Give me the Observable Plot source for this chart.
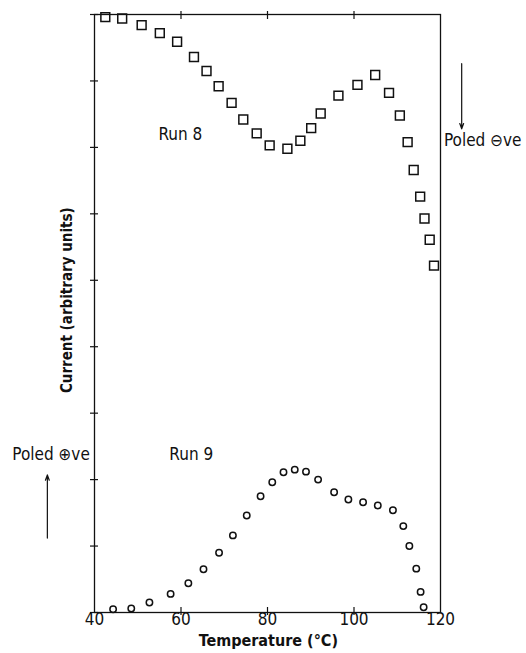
<!DOCTYPE html>
<html>
<head>
<meta charset="utf-8">
<script src="https://cdn.jsdelivr.net/npm/d3@7"></script>
<script src="https://cdn.jsdelivr.net/npm/@observablehq/plot@0.6"></script>
<style>
  html, body { margin: 0; padding: 0; background: #fff; }
  #chart svg { display: block; }
</style>
</head>
<body>
<div id="chart"></div>
<script>
// Run 8 (squares): temperature (°C) and current (arbitrary units)
const run8Temp = [42.5, 46.4, 50.9, 55.1, 59.1, 63.0, 65.9, 68.7, 71.7, 74.4, 77.5, 80.5, 84.6, 87.6, 90.1, 92.3, 96.4, 100.8, 104.9, 108.1, 110.6, 112.4, 113.8, 115.3, 116.3, 117.5, 118.5];
const run8Current = [8.96, 8.94, 8.84, 8.72, 8.59, 8.36, 8.15, 7.92, 7.67, 7.42, 7.21, 7.03, 6.98, 7.10, 7.29, 7.51, 7.78, 7.94, 8.09, 7.82, 7.48, 7.08, 6.66, 6.26, 5.93, 5.61, 5.22];

// Run 9 (circles)
const run9Temp = [44.3, 48.5, 52.7, 57.6, 61.7, 65.2, 68.8, 72.0, 75.2, 78.4, 81.1, 83.7, 86.3, 88.9, 91.7, 95.4, 98.7, 102.1, 105.5, 109.0, 111.4, 112.8, 114.4, 115.4, 116.1];
const run9Current = [0.05, 0.06, 0.15, 0.28, 0.44, 0.65, 0.90, 1.16, 1.46, 1.75, 1.96, 2.11, 2.15, 2.12, 2.00, 1.81, 1.70, 1.66, 1.61, 1.54, 1.30, 1.00, 0.66, 0.31, 0.08];

// Axes
const xTickLabels = [40, 60, 80, 100, 120];
const xTickMarks = [60, 80, 100];
const yTickMarks = [0, 1, 2, 3, 4, 5, 6, 7, 8, 9];

const run8 = run8Temp.map((t, i) => ({t, c: run8Current[i]}));
const run9 = run9Temp.map((t, i) => ({t, c: run9Current[i]}));

const FONT = "'DejaVu Sans Condensed', 'Liberation Sans', sans-serif";

const chart = Plot.plot({
  width: 526,
  height: 653,
  marginLeft: 94,
  marginRight: 86,
  marginTop: 14,
  marginBottom: 41,
  style: {fontFamily: FONT, color: "#111", background: "#fff"},
  x: {domain: [40, 120]},
  y: {domain: [0, 9]},
  marks: [
    Plot.frame({stroke: "#111", strokeWidth: 1.3}),
    // left axis ticks crossing the axis
    Plot.axisY({ticks: yTickMarks, tickSize: 8, dx: 4, tickFormat: () => "", label: null, stroke: "#111", strokeWidth: 1.2}),
    // bottom / top tick marks crossing the frame
    Plot.axisX({anchor: "bottom", ticks: xTickMarks, tickSize: 8, dy: -5, tickFormat: () => "", label: null, stroke: "#111", strokeWidth: 1.2}),
    Plot.axisX({anchor: "top", ticks: xTickMarks, tickSize: 8, dy: 4, tickFormat: () => "", label: null, stroke: "#111", strokeWidth: 1.2}),
    // bottom tick labels
    Plot.axisX({anchor: "bottom", ticks: xTickLabels, tickSize: 0, tickPadding: 0, fontSize: 17, label: null, fill: "#111"}),
    // data
    Plot.dot(run8, {x: "t", y: "c", symbol: "square", r: 5, stroke: "#111", strokeWidth: 1.5, fill: "none"}),
    Plot.dot(run9, {x: "t", y: "c", symbol: "circle", r: 3.2, stroke: "#111", strokeWidth: 1.5, fill: "none"}),
    // annotations
    Plot.text(["Run 8"], {x: 54.8, y: 7.2, text: d => d, textAnchor: "start", fontSize: 17, fill: "#111"}),
    Plot.text(["Run 9"], {x: 57.3, y: 2.37, text: d => d, textAnchor: "start", fontSize: 17, fill: "#111"}),
    Plot.text(["Poled \u2295ve"], {x: 21.0, y: 2.37, text: d => d, textAnchor: "start", fontSize: 17, fill: "#111", clip: false}),
    Plot.text(["Poled \u2296ve"], {x: 120.8, y: 7.1, text: d => d, textAnchor: "start", fontSize: 17, fill: "#111", clip: false}),
    Plot.arrow([0], {x1: 29.1, x2: 29.1, y1: 1.12, y2: 2.07, stroke: "#111", strokeWidth: 1.2, headLength: 7, headAngle: 40}),
    Plot.arrow([0], {x1: 124.9, x2: 124.9, y1: 8.26, y2: 7.28, stroke: "#111", strokeWidth: 1.2, headLength: 7, headAngle: 40}),
    // axis titles
    Plot.text(["Current (arbitrary units)"], {x: 33.6, y: 4.7, text: d => d, rotate: -90, fontSize: 15, fontWeight: "bold", fill: "#111"}),
    Plot.text(["Temperature (\u00B0C)"], {x: 80.2, frameAnchor: "bottom", dy: 33, text: d => d, fontSize: 16, fontWeight: "bold", fill: "#111"})
  ]
});

document.getElementById("chart").appendChild(chart);
</script>
</body>
</html>
